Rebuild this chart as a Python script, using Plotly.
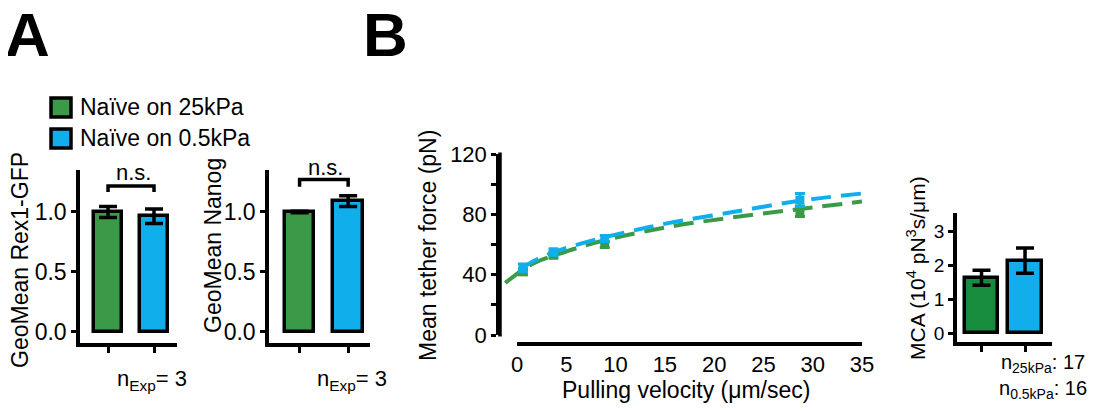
import plotly.graph_objects as go

# ---------------- data ----------------
categories = ["Naïve on 25kPa", "Naïve on 0.5kPa"]

rex1_mean = [1.00, 0.965]
rex1_err = [0.045, 0.06]
nanog_mean = [1.00, 1.09]
nanog_err = [0.006, 0.045]

velocity = [0.6, 3.7, 8.9, 28.7]
force_25 = [42.0, 53.0, 60.0, 82.0]
force_25_err = [2.0, 2.0, 2.0, 3.5]
force_05 = [44.5, 55.0, 64.0, 89.5]
force_05_err = [2.5, 2.0, 2.0, 4.3]

fit25_x = [-1.2, -0.5, 0.6, 2.0, 3.9, 8.4, 15.2, 21.9, 28.7, 35.0]
fit25_y = [34.5, 38.0, 43.5, 48.5, 53.0, 62.0, 71.5, 78.0, 83.5, 88.5]
fit05_x = [0.4, 2.0, 3.9, 8.4, 12.0, 15.2, 21.9, 28.7, 35.0]
fit05_y = [44.0, 50.0, 55.3, 64.0, 69.5, 74.0, 81.5, 89.0, 93.8]

mca_mean = [1.63, 2.13]
mca_err = [0.22, 0.37]

rex_ticks = [0.0, 0.5, 1.0]
force_ticks = [0, 20, 40, 60, 80, 100, 120]
force_ticktext = ["0", "", "40", "", "80", "", "120"]
vel_ticks = [0, 5, 10, 15, 20, 25, 30, 35]
mca_ticks = [0, 1, 2, 3]

ns_bracket_rex = [1.167, 1.217]
ns_bracket_nanog = [1.21, 1.27]

# ---------------- style ----------------
OFF = 8                      # default body margin of the html page
W, H = 1095 - 2 * OFF, 412 - 2 * OFF
GREEN = "#3b9a48"
GREEN_DARK = "#178b3e"
BLUE = "#10aeea"
FONT = "Liberation Sans, Arial, sans-serif"
LW = 3.5


def px(x):
    return (x - OFF) / W


def py(y):
    return 1 - (y - OFF) / H


fig = go.Figure()

bar_colors = [GREEN, BLUE]

# Panel A1
fig.add_trace(go.Bar(x=categories, y=rex1_mean, width=0.62,
                     marker=dict(color=bar_colors, line=dict(color="black", width=LW)),
                     error_y=dict(type="data", array=rex1_err, color="black", thickness=3.5, width=9),
                     xaxis="x", yaxis="y", showlegend=False))
# Panel A2
fig.add_trace(go.Bar(x=categories, y=nanog_mean, width=0.61,
                     marker=dict(color=bar_colors, line=dict(color="black", width=LW)),
                     error_y=dict(type="data", array=nanog_err, color="black", thickness=3.5, width=9),
                     xaxis="x2", yaxis="y2", showlegend=False))
# Brackets
for brk, xa, ya in [(ns_bracket_rex, "x", "y"), (ns_bracket_nanog, "x2", "y2")]:
    fig.add_trace(go.Scatter(x=[categories[0], categories[0], categories[1], categories[1]],
                             y=[brk[0], brk[1], brk[1], brk[0]], mode="lines",
                             line=dict(color="black", width=LW), xaxis=xa, yaxis=ya,
                             showlegend=False, cliponaxis=False))

# Panel B fit curves (subplot x3/y3 whose left edge is the y axis)
fig.add_trace(go.Scatter(x=fit25_x, y=fit25_y, mode="lines", line_shape="spline",
                         line=dict(color=GREEN, width=4, dash="20px,10px"),
                         xaxis="x3", yaxis="y3", showlegend=False))
fig.add_trace(go.Scatter(x=fit05_x, y=fit05_y, mode="lines", line_shape="spline",
                         line=dict(color=BLUE, width=4, dash="20px,10px"),
                         xaxis="x3", yaxis="y3", showlegend=False))
# Panel B data points (subplot x6/y6 carrying the offset x axis)
fig.add_trace(go.Scatter(x=velocity, y=force_25, mode="markers", cliponaxis=False,
                         marker=dict(symbol="square", size=9, color=GREEN),
                         error_y=dict(type="data", array=force_25_err, color=GREEN, thickness=3, width=5),
                         xaxis="x6", yaxis="y6", showlegend=False))
fig.add_trace(go.Scatter(x=velocity, y=force_05, mode="markers", cliponaxis=False,
                         marker=dict(symbol="square", size=9, color=BLUE),
                         error_y=dict(type="data", array=force_05_err, color=BLUE, thickness=3, width=5),
                         xaxis="x6", yaxis="y6", showlegend=False))

# Panel MCA
fig.add_trace(go.Bar(x=categories, y=mca_mean, width=0.77,
                     marker=dict(color=[GREEN_DARK, BLUE], line=dict(color="black", width=LW)),
                     error_y=dict(type="data", array=mca_err, color="black", thickness=3.5, width=9),
                     xaxis="x4", yaxis="y4", showlegend=False))

common_x = dict(showline=True, linewidth=LW, linecolor="black", ticks="outside", ticklen=6,
                tickwidth=3, tickcolor="black", showticklabels=False, showgrid=False,
                zeroline=False, fixedrange=True)
common_y = dict(showline=True, linewidth=LW, linecolor="black", ticks="outside", ticklen=5,
                tickwidth=3, tickcolor="black", showgrid=False, zeroline=False,
                tickfont=dict(family=FONT, size=23, color="black"))

yA_domain = [py(343), py(170)]
B_px_per_unit = (862 - 517) / vel_ticks[-1]
B_py_per_unit = (335 - 154) / force_ticks[-1]
x3_left = -(517 - 500) / B_px_per_unit
y6_bottom = -(342 - 335) / B_py_per_unit

fig.update_layout(
    width=W, height=H, margin=dict(l=0, r=0, t=0, b=0, autoexpand=False),
    paper_bgcolor="white", plot_bgcolor="rgba(0,0,0,0)", bargap=0,
    font=dict(family=FONT, color="black"),
    xaxis=dict(domain=[px(80), px(177)], range=[-0.61, 1.5], anchor="y", **common_x),
    yaxis=dict(domain=yA_domain, range=[-0.092, 1.35], anchor="x", tickvals=rex_ticks,
               tickformat=".1f", **common_y),
    xaxis2=dict(domain=[px(269), px(370)], range=[-0.63, 1.45], anchor="y2", **common_x),
    yaxis2=dict(domain=yA_domain, range=[-0.092, 1.35], anchor="x2", tickvals=rex_ticks,
                tickformat=".1f", **common_y),
    # panel B: y axis + curves
    xaxis3=dict(domain=[px(500), px(862)], range=[x3_left, vel_ticks[-1]], anchor="y3",
                showline=True, linecolor="rgba(0,0,0,0)", showticklabels=False, ticks="",
                showgrid=False, zeroline=False),
    yaxis3=dict(domain=[py(335), py(154)], range=[0, 120], anchor="x3",
                showline=True, linewidth=LW, linecolor="black",
                ticks="outside", ticklen=5, tickwidth=3, tickcolor="black",
                tickvals=force_ticks, ticktext=force_ticktext,
                tickfont=dict(family=FONT, size=22, color="black"), showgrid=False,
                zeroline=False),
    # panel B: offset x axis + points
    xaxis6=dict(domain=[px(517), px(862)], range=[0, vel_ticks[-1]], anchor="y6",
                showline=True, linewidth=LW, linecolor="black", ticks="",
                tickvals=vel_ticks, tickfont=dict(family=FONT, size=22, color="black"),
                showgrid=False, zeroline=False),
    yaxis6=dict(domain=[py(342), py(154)], range=[y6_bottom, 120], anchor="x6",
                showline=False, showticklabels=False, ticks="", showgrid=False,
                zeroline=False),
    xaxis4=dict(domain=[px(957), px(1052)], range=[-0.563, 1.62], anchor="y4", **common_x),
    yaxis4=dict(domain=[py(342), py(213)], range=[-0.26, 3.53], anchor="x4", tickvals=mca_ticks,
                **{**common_y, "tickfont": dict(family=FONT, size=19, color="black")}),
)

shapes = []
# panel B y-axis line (paper coordinates, same place as the axis)
shapes.append(dict(type="line", xref="paper", yref="paper", x0=px(500), x1=px(500),
                   y0=py(336.5), y1=py(152.5), line=dict(color="black", width=LW)))
# legend swatches
for (y0, y1), col in zip([(98, 117), (129, 148)], [GREEN, BLUE]):
    shapes.append(dict(type="rect", xref="paper", yref="paper", x0=px(51), x1=px(71),
                       y0=py(y1), y1=py(y0), fillcolor=col, line=dict(color="black", width=LW)))
fig.update_layout(shapes=shapes)

ann = []


def add_text(text, x, y, size, xanchor="center", yanchor="middle", angle=0, bold=False):
    ann.append(dict(text=text, x=px(x), y=py(y), xref="paper", yref="paper", xanchor=xanchor,
                    yanchor=yanchor, showarrow=False, textangle=angle,
                    font=dict(family=FONT, size=size, color="black",
                              weight="bold" if bold else "normal")))


add_text("A", 27, 35, 62, bold=True)
add_text("B", 385, 35, 62, bold=True)
add_text(categories[0], 78, 107, 23, xanchor="left")
add_text(categories[1], 78, 138, 23, xanchor="left")
add_text("GeoMean Rex1-GFP", 20, 260, 23, angle=-90)
add_text("GeoMean Nanog", 213, 245, 23, angle=-90)
add_text("n.s.", 133, 172, 22)
add_text("n.s.", 325, 167, 22)
add_text("n<sub>Exp</sub>= 3", 115, 380, 22, xanchor="left")
add_text("n<sub>Exp</sub>= 3", 315, 380, 22, xanchor="left")
add_text("Mean tether force (pN)", 428, 246, 23, angle=-90)
add_text("Pulling velocity (μm/sec)", 686, 390, 23)
add_text("MCA (10<sup>4</sup> pN<sup>3</sup>s/μm)", 916, 268, 21, angle=-90)
add_text("n<sub>25kPa</sub>: 17<br>n<sub>0.5kPa</sub>: 16", 997, 404, 20, xanchor="left",
         yanchor="bottom")
fig.update_layout(annotations=ann)

fig.write_html("out.html")
